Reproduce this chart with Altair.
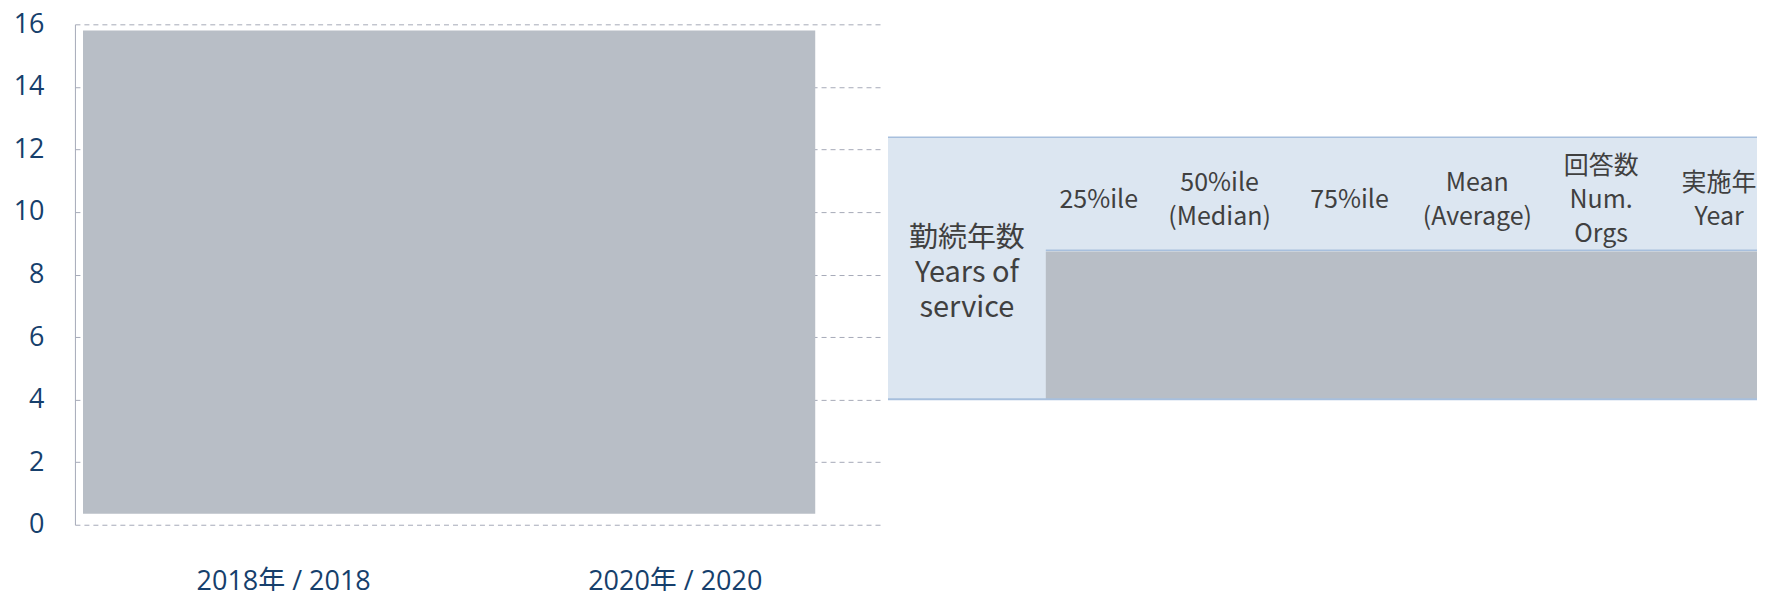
import altair as alt
import pandas as pd

# ---------------- data ----------------
years = ["2018年 / 2018", "2020年 / 2020"]
y_ticks = [0, 2, 4, 6, 8, 10, 12, 14, 16]

# grey picture block in the chart (value range on y, fraction of width on x)
block_y = [0.35, 15.8]
block_x = [0.01, 0.915]

# overlaid table
row_label = ["勤続年数", "Years of", "service"]
headers = [
    ["25%ile"],
    ["50%ile", "(Median)"],
    ["75%ile"],
    ["Mean", "(Average)"],
    ["回答数", "Num.", "Orgs"],
    ["実施年", "Year"],
]
table_y = [4.01, 12.39]        # table bottom / top (in y units)
header_bottom = 8.78           # separator between header and body
body_top = 8.74
header_center = 10.39
row_label_center = 8.05

# ---------------- layout / style ----------------
COL_W = [158, 106, 136, 124, 132, 116, 120]
TABLE_W = 877
LEFT_W, H = 810, 501
PX_PER_UNIT = H / 16.0
HDR_LH, LAB_LH = 34, 35

GREY = "#b8bec6"
BLUE_BG = "#dce6f1"
BLUE_LINE = "#a7bfdd"
NAVY = "#163f6c"
TXT = "#404040"
GRID = "#a6aab8"
AXFONT = "Open Sans, Noto Sans CJK JP, sans-serif"
TFONT = "Noto Sans CJK JP, Noto Sans, sans-serif"

yscale = alt.Scale(domain=[0, 16], nice=False, zero=False)

# ---- left panel ----
block_df = pd.DataFrame({"x0": [block_x[0]], "x1": [block_x[1]],
                         "y0": [block_y[0]], "y1": [block_y[1]]})
block = alt.Chart(block_df).mark_rect(color=GREY).encode(
    x=alt.X("x0:Q", scale=alt.Scale(domain=[0, 1], nice=False, zero=False), axis=None),
    x2="x1:Q",
    y=alt.Y("y0:Q", scale=yscale,
            axis=alt.Axis(values=y_ticks, grid=True, gridDash=[5, 4], gridColor=GRID,
                          gridWidth=1, domainColor=GRID, domainWidth=1, ticks=False,
                          labelFont=AXFONT, labelFontSize=27, labelColor=NAVY,
                          labelPadding=31, title=None)),
    y2="y1:Q",
)

years_df = pd.DataFrame({"year": years})
xaxis_layer = alt.Chart(years_df).mark_point(opacity=0).encode(
    x=alt.X("year:N", sort=years,
            scale=alt.Scale(type="band", paddingInner=0, paddingOuter=0.033),
            axis=alt.Axis(orient="bottom", labelAngle=0, domain=False, ticks=False,
                          labelPadding=44, labelFont=AXFONT, labelFontSize=27,
                          labelColor=NAVY, title=None, grid=False)),
    y=alt.value(0),
)

left = alt.layer(xaxis_layer, block).resolve_scale(x="independent").properties(
    width=LEFT_W, height=H)

# ---- right panel (table) ----
edges = [0]
for w in COL_W:
    edges.append(edges[-1] + w)
centers = [(edges[i] + edges[i + 1]) / 2 for i in range(len(COL_W))]

xs = alt.Scale(domain=[0, TABLE_W], nice=False, zero=False)

bg_df = pd.DataFrame({"x0": [0, edges[1]], "x1": [TABLE_W, TABLE_W],
                      "y0": [table_y[0], table_y[0]], "y1": [table_y[1], body_top],
                      "kind": ["bg", "body"]})
bg = alt.Chart(bg_df).mark_rect().encode(
    x=alt.X("x0:Q", scale=xs, axis=None), x2="x1:Q",
    y=alt.Y("y0:Q", scale=yscale, axis=None), y2="y1:Q",
    color=alt.Color("kind:N", scale=alt.Scale(domain=["bg", "body"], range=[BLUE_BG, GREY]),
                    legend=None),
)

lines_df = pd.DataFrame({"x0": [0, edges[1], 0], "x1": [TABLE_W, TABLE_W, TABLE_W],
                         "y": [table_y[1], header_bottom, table_y[0]],
                         "w": [1.5, 1.5, 2.0]})
lines = alt.Chart(lines_df).mark_rule(color=BLUE_LINE).encode(
    x=alt.X("x0:Q", scale=xs, axis=None), x2="x1:Q",
    y=alt.Y("y:Q", scale=yscale, axis=None),
    strokeWidth=alt.StrokeWidth("w:Q", scale=None, legend=None),
)


def line_rows(x, center, texts, lh):
    n = len(texts)
    return [{"x": x, "y": center - (j - (n - 1) / 2) * lh / PX_PER_UNIT, "t": t}
            for j, t in enumerate(texts)]


hdr_rows = []
for i, h in enumerate(headers):
    hdr_rows += line_rows(centers[i + 1], header_center, h, HDR_LH)
hdr_df = pd.DataFrame(hdr_rows)
hdr = alt.Chart(hdr_df).mark_text(font=TFONT, fontSize=25, color=TXT,
                                  align="center", baseline="middle").encode(
    x=alt.X("x:Q", scale=xs, axis=None),
    y=alt.Y("y:Q", scale=yscale, axis=None),
    text="t:N",
)

lab_df = pd.DataFrame(line_rows(centers[0], row_label_center, row_label, LAB_LH))
lab = alt.Chart(lab_df).mark_text(font=TFONT, fontSize=29, color=TXT,
                                  align="center", baseline="middle").encode(
    x=alt.X("x:Q", scale=xs, axis=None),
    y=alt.Y("y:Q", scale=yscale, axis=None),
    text="t:N",
)

right = alt.layer(bg, lines, hdr, lab).properties(width=TABLE_W, height=H)

chart = alt.hconcat(left, right, spacing=3).resolve_scale(y="shared").properties(
    padding={"left": 5, "top": 2, "right": -8, "bottom": 0},
    background="white",
).configure_view(strokeWidth=0, stroke="transparent")

chart.save("out.html", embed_options={"renderer": "svg", "actions": False})
